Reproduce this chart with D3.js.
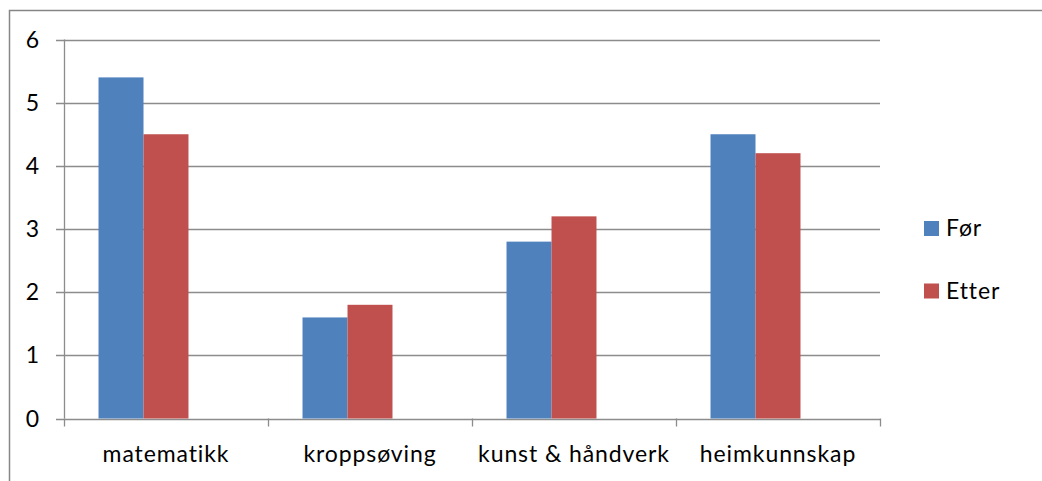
<!DOCTYPE html>
<html>
<head>
<meta charset="utf-8">
<script src="https://cdn.jsdelivr.net/npm/d3@7"></script>
<style>
  html, body { margin: 0; padding: 0; background: #fff; }
  svg { display: block; }
  text { font-family: Lato, "Noto Sans", sans-serif; fill: #000; font-size: 23px; letter-spacing: 0.9px; }
</style>
</head>
<body>
<svg id="chart" width="1042" height="481"></svg>
<script>
// Fag og gjennomsnittlig skår før og etter
const categories = ["matematikk", "kroppsøving", "kunst & håndverk", "heimkunnskap"];
const seriesNames = ["Før", "Etter"];
const forValues = [5.4, 1.6, 2.8, 4.5];
const etterValues = [4.5, 1.8, 3.2, 4.2];
const yTicks = [0, 1, 2, 3, 4, 5, 6];
const colors = ["#4F81BD", "#C0504D"];

const svg = d3.select("#chart");
const W = 1042, H = 481;

// outer frame (top and left edges visible)
svg.append("rect")
  .attr("x", 9.5).attr("y", 10.5)
  .attr("width", W + 10).attr("height", H + 10)
  .attr("fill", "none").attr("stroke", "#868686").attr("stroke-width", 1.5);

const plot = { left: 64, right: 880, top: 39.5, bottom: 418.5 };

const x = d3.scaleBand().domain(categories).range([plot.left, plot.right]).paddingInner(0).paddingOuter(0);
// three slots per category; the third slot is left empty
const slots = ["Før", "Etter", "_"];
const x1 = d3.scaleBand().domain(slots).range([0, x.bandwidth()]).paddingInner(0).paddingOuter(0.767);
const y = d3.scaleLinear().domain([0, 6]).range([plot.bottom, plot.top]);

// gridlines
svg.append("g")
  .selectAll("line")
  .data(yTicks)
  .join("line")
  .attr("x1", plot.left - 8).attr("x2", plot.right)
  .attr("y1", d => Math.round(y(d)) + 0.5).attr("y2", d => Math.round(y(d)) + 0.5)
  .attr("stroke", "#8c8c8c").attr("stroke-width", 1.3);

// y axis line
svg.append("line")
  .attr("x1", plot.left + 0.5).attr("x2", plot.left + 0.5)
  .attr("y1", plot.top).attr("y2", plot.bottom)
  .attr("stroke", "#8c8c8c").attr("stroke-width", 1.3);

// y labels
svg.append("g")
  .selectAll("text")
  .data(yTicks)
  .join("text")
  .attr("x", 40).attr("y", d => y(d) + 8)
  .attr("text-anchor", "end")
  .text(d => d);

// category ticks
const tickPos = categories.map(c => x(c)).concat([plot.right]);
svg.append("g")
  .selectAll("line")
  .data(tickPos)
  .join("line")
  .attr("x1", d => Math.round(d) + 0.5).attr("x2", d => Math.round(d) + 0.5)
  .attr("y1", plot.bottom).attr("y2", plot.bottom + 8)
  .attr("stroke", "#8c8c8c").attr("stroke-width", 1.3);

// bars
const seriesData = [forValues, etterValues];
const g = svg.append("g");
seriesData.forEach((vals, si) => {
  g.selectAll(".s" + si)
    .data(vals)
    .join("rect")
    .attr("class", "s" + si)
    .attr("x", (d, i) => x(categories[i]) + x1(slots[si]))
    .attr("width", x1.bandwidth())
    .attr("y", d => y(d))
    .attr("height", d => y(0) - y(d))
    .attr("fill", colors[si]);
});

// category labels
svg.append("g")
  .selectAll("text")
  .data(categories)
  .join("text")
  .attr("x", d => x(d) + x.bandwidth() / 2)
  .attr("y", 462)
  .attr("text-anchor", "middle")
  .text(d => d);

// legend
const legend = svg.append("g");
seriesNames.forEach((name, i) => {
  const ly = 221 + i * 62.5;
  legend.append("rect")
    .attr("x", 924).attr("y", ly)
    .attr("width", 15).attr("height", 15)
    .attr("fill", colors[i]);
  legend.append("text")
    .attr("x", 946).attr("y", ly + 15)
    .text(name);
});
</script>
</body>
</html>
